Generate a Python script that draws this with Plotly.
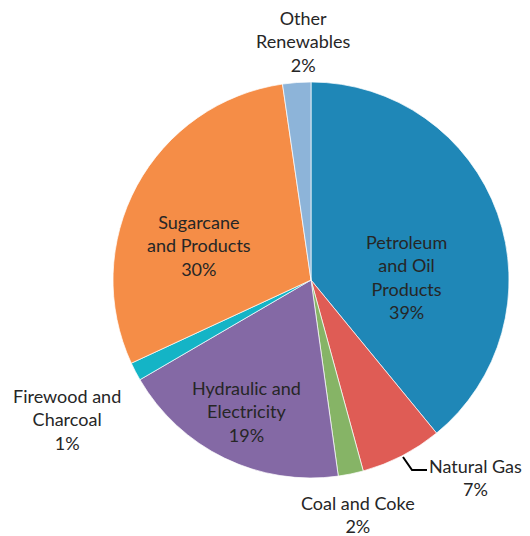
import plotly.graph_objects as go

labels = ["Petroleum and Oil Products", "Natural Gas", "Coal and Coke",
          "Hydraulic and Electricity", "Firewood and Charcoal",
          "Sugarcane and Products", "Other Renewables"]
values = [39.07, 6.68, 2.05, 18.8, 1.5, 29.6, 2.3]
pct_text = ["39%", "7%", "2%", "19%", "1%", "30%", "2%"]
label_lines = ["Petroleum<br>and Oil<br>Products", "Natural Gas", "Coal and Coke",
               "Hydraulic and<br>Electricity", "Firewood and<br>Charcoal",
               "Sugarcane<br>and Products", "Other<br>Renewables"]
colors = ["#1F87B7", "#DF5C55", "#86B466", "#8469A5", "#14B4C6", "#F58D47", "#8DB4D9"]

W, H = 530, 536
# label anchor positions in pixels (x, y from top)
label_pos = [(406, 277), (475, 477), (358, 514), (246, 411), (67, 419), (199, 245), (303, 41)]

cx, cy, r = 311, 280, 198

fig = go.Figure(go.Pie(
    labels=labels, values=values, sort=False, direction="clockwise", rotation=0,
    marker=dict(colors=colors, line=dict(color="white", width=0.7)),
    textinfo="none", hoverinfo="label+percent", showlegend=False,
    domain=dict(x=[(cx - r) / W, (cx + r) / W], y=[(H - cy - r) / H, (H - cy + r) / H]),
))

for name, pct, (px, py) in zip(label_lines, pct_text, label_pos):
    fig.add_annotation(
        x=px / W, y=1 - py / H, xref="paper", yref="paper",
        text=f"{name}<br>{pct}", showarrow=False, xanchor="center", yanchor="middle",
        font=dict(family="Lato", size=18, color="#262626"), align="center",
    )

# leader line for Natural Gas
pts = [(403, 457), (412, 470), (427, 470)]
path = "M " + " L ".join(f"{x / W},{1 - y / H}" for x, y in pts)
fig.add_shape(type="path", path=path, xref="paper", yref="paper",
              line=dict(color="black", width=2))

fig.update_layout(width=W, height=H, margin=dict(l=0, r=0, t=0, b=0),
                  paper_bgcolor="white", plot_bgcolor="white")
fig.write_html("out.html")
